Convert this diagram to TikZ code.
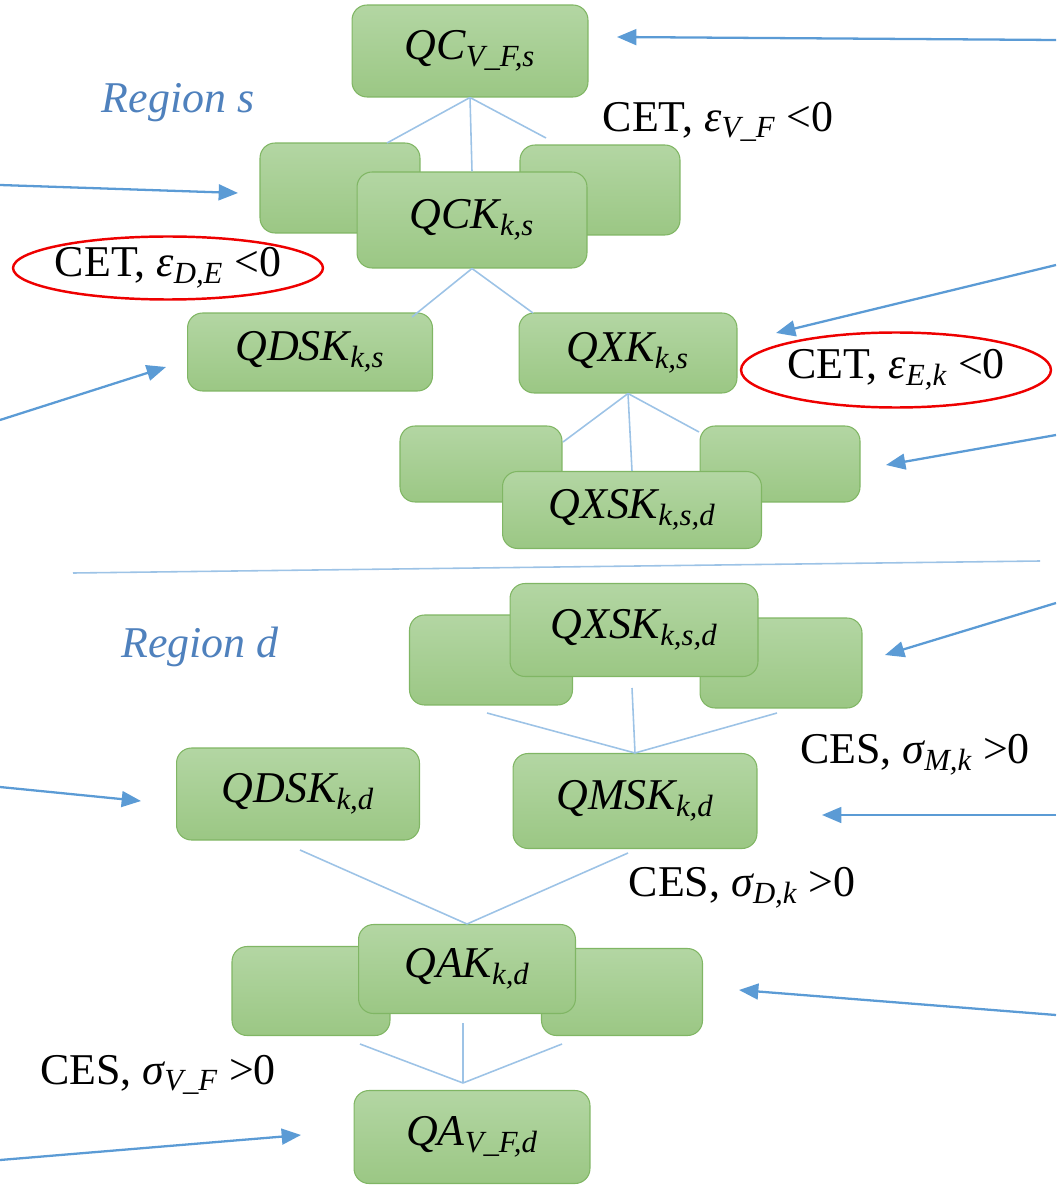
\documentclass[tikz,border=0pt]{standalone}
\usepackage{fontspec}
\setmainfont{Liberation Serif}
\usepackage{xcolor}
\usepackage{tikz}
\usetikzlibrary{shapes.geometric, positioning, arrows.meta}

\definecolor{boxtop}{HTML}{B3D6A3}
\definecolor{boxbot}{HTML}{9BC784}
\definecolor{boxline}{HTML}{80B664}
\definecolor{linkblue}{HTML}{9DC3E6}
\definecolor{arrowblue}{HTML}{5B9BD5}
\definecolor{regionblue}{HTML}{4F81BD}
\definecolor{ringred}{HTML}{EE0000}

\newcommand{\subidx}[1]{\textsubscript{#1}}

\tikzset{
	good/.style={rectangle, rounded corners=0.3cm, draw=boxline, line width=0.6pt, top color=boxtop, bottom color=boxbot, inner sep=0pt, font=\fontsize{25}{30}\selectfont\itshape},
	link/.style={draw=linkblue, line width=0.9pt},
	feed/.style={draw=arrowblue, line width=1.3pt, -{Triangle[length=11pt, width=9pt]}},
	elast/.style={font=\fontsize{25}{30}\selectfont, inner sep=0pt},
	ring/.style={ellipse, draw=ringred, line width=1.4pt, inner xsep=-0.12cm, inner ysep=0pt},
	region/.style={font=\fontsize{25}{30}\selectfont\itshape, text=regionblue}
}

\begin{document}
\begin{tikzpicture}[x=0.02cm, y=-0.02cm]
			\useasboundingbox (0,0) rectangle (1056,1185);
			\node[good, minimum width=4.72cm, minimum height=1.84cm] (qc) at (470,51) {QC\subidx{V\_F,s}};
			\node[good, minimum width=3.2cm, minimum height=1.8cm] (qckl) at (340,188) {};
			\node[good, minimum width=3.2cm, minimum height=1.8cm] (qckr) at (600,190) {};
			\node[good, minimum width=4.6cm, minimum height=1.92cm] (qck) at (472,220) {QCK\subidx{k,s}};
			\node[good, minimum width=4.9cm, minimum height=1.56cm] (qdsks) at (310,352) {QDSK\subidx{k,s}};
			\node[good, minimum width=4.36cm, minimum height=1.6cm] (qxk) at (628,353) {QXK\subidx{k,s}};
			\node[good, minimum width=3.24cm, minimum height=1.52cm] (qxsksl) at (481,464) {};
			\node[good, minimum width=3.2cm, minimum height=1.52cm] (qxsksr) at (780,464) {};
			\node[good, minimum width=5.18cm, minimum height=1.54cm] (qxsks) at (632,510) {QXSK\subidx{k,s,d}};
			\node[good, minimum width=3.26cm, minimum height=1.8cm] (qxskdl) at (491,660) {};
			\node[good, minimum width=3.24cm, minimum height=1.8cm] (qxskdr) at (781,663) {};
			\node[good, minimum width=4.96cm, minimum height=1.86cm] (qxskd) at (634,630) {QXSK\subidx{k,s,d}};
			\node[good, minimum width=4.86cm, minimum height=1.84cm] (qdskd) at (298,794) {QDSK\subidx{k,d}};
			\node[good, minimum width=4.88cm, minimum height=1.9cm] (qmsk) at (635,801) {QMSK\subidx{k,d}};
			\node[good, minimum width=3.16cm, minimum height=1.78cm] (qakl) at (311,991) {};
			\node[good, minimum width=3.22cm, minimum height=1.74cm] (qakr) at (622,992) {};
			\node[good, minimum width=4.34cm, minimum height=1.78cm] (qak) at (467,969) {QAK\subidx{k,d}};
			\node[good, minimum width=4.72cm, minimum height=1.86cm] (qa) at (472,1137) {QA\subidx{V\_F,d}};
			\node[region] (regs) at (178,103) {Region s};
			\node[region] (regd) at (200,647) {Region d};
			\node[elast] (cetvf) at (718,122) {CET, \textit{ε\subidx{V\_F}} <0};
			\node[elast, ring, minimum width=6.2cm, minimum height=1.26cm] (cetde) at (168,268) {CET, \textit{ε\subidx{D,E}} <0};
			\node[elast, ring, minimum width=6.2cm, minimum height=1.5cm] (cetek) at (896,370) {CET, \textit{ε\subidx{E,k}} <0};
			\node[elast] (cesmk) at (915,755) {CES, \textit{σ\subidx{M,k}} >0};
			\node[elast] (cesdk) at (742,888) {CES, \textit{σ\subidx{D,k}} >0};
			\node[elast] (cesvf) at (158,1075) {CES, \textit{σ\subidx{V\_F}} >0};
			\coordinate (qcl) at (387,143);
			\coordinate (qcr) at (546,138);
			\coordinate (qckdl) at (412,317);
			\coordinate (qckdr) at (533,313);
			\coordinate (qxkl) at (563,442);
			\coordinate (qxkr) at (699,432);
			\coordinate (jl) at (487,713);
			\coordinate (jm) at (632,688);
			\coordinate (jr) at (777,713);
			\coordinate (dl) at (300,850);
			\coordinate (dr) at (628,853);
			\coordinate (al) at (360,1044);
			\coordinate (am) at (463,1023);
			\coordinate (ar) at (562,1044);
			\coordinate (atop) at (463,1083);
			\coordinate (sepl) at (73,573);
			\coordinate (sepr) at (1040,561);
			\draw[link] (qc.south) -- (qcl);
			\draw[link] (qc.south) -- (qck.north);
			\draw[link] (qc.south) -- (qcr);
			\draw[link] (qck.south) -- (qckdl);
			\draw[link] (qck.south) -- (qckdr);
			\draw[link] (qxk.south) -- (qxkl);
			\draw[link] (qxk.south) -- (qxsks.north);
			\draw[link] (qxk.south) -- (qxkr);
			\draw[link] (jl) -- (qmsk.north);
			\draw[link] (jm) -- (qmsk.north);
			\draw[link] (jr) -- (qmsk.north);
			\draw[link] (dl) -- (qak.north);
			\draw[link] (dr) -- (qak.north);
			\draw[link] (al) -- (atop);
			\draw[link] (am) -- (atop);
			\draw[link] (ar) -- (atop);
			\draw[link] (sepl) -- (sepr);
			\coordinate (in1) at (1056,40);
			\coordinate (to1) at (617,37);
			\coordinate (in2) at (0,185);
			\coordinate (to2) at (238,193);
			\coordinate (in3) at (1056,265);
			\coordinate (to3) at (776,333);
			\coordinate (in4) at (0,420);
			\coordinate (to4) at (166,367);
			\coordinate (in5) at (1056,435);
			\coordinate (to5) at (886,465);
			\coordinate (in6) at (1056,603);
			\coordinate (to6) at (885,655);
			\coordinate (in7) at (0,787);
			\coordinate (to7) at (141,801);
			\coordinate (in8) at (1056,815);
			\coordinate (to8) at (822,815);
			\coordinate (in9) at (1056,1015);
			\coordinate (to9) at (739,990);
			\coordinate (in10) at (0,1160);
			\coordinate (to10) at (301,1135);
			\foreach \i in {1,...,10}
				\draw[feed] (in\i) -- (to\i);
		\end{tikzpicture}
\end{document}
